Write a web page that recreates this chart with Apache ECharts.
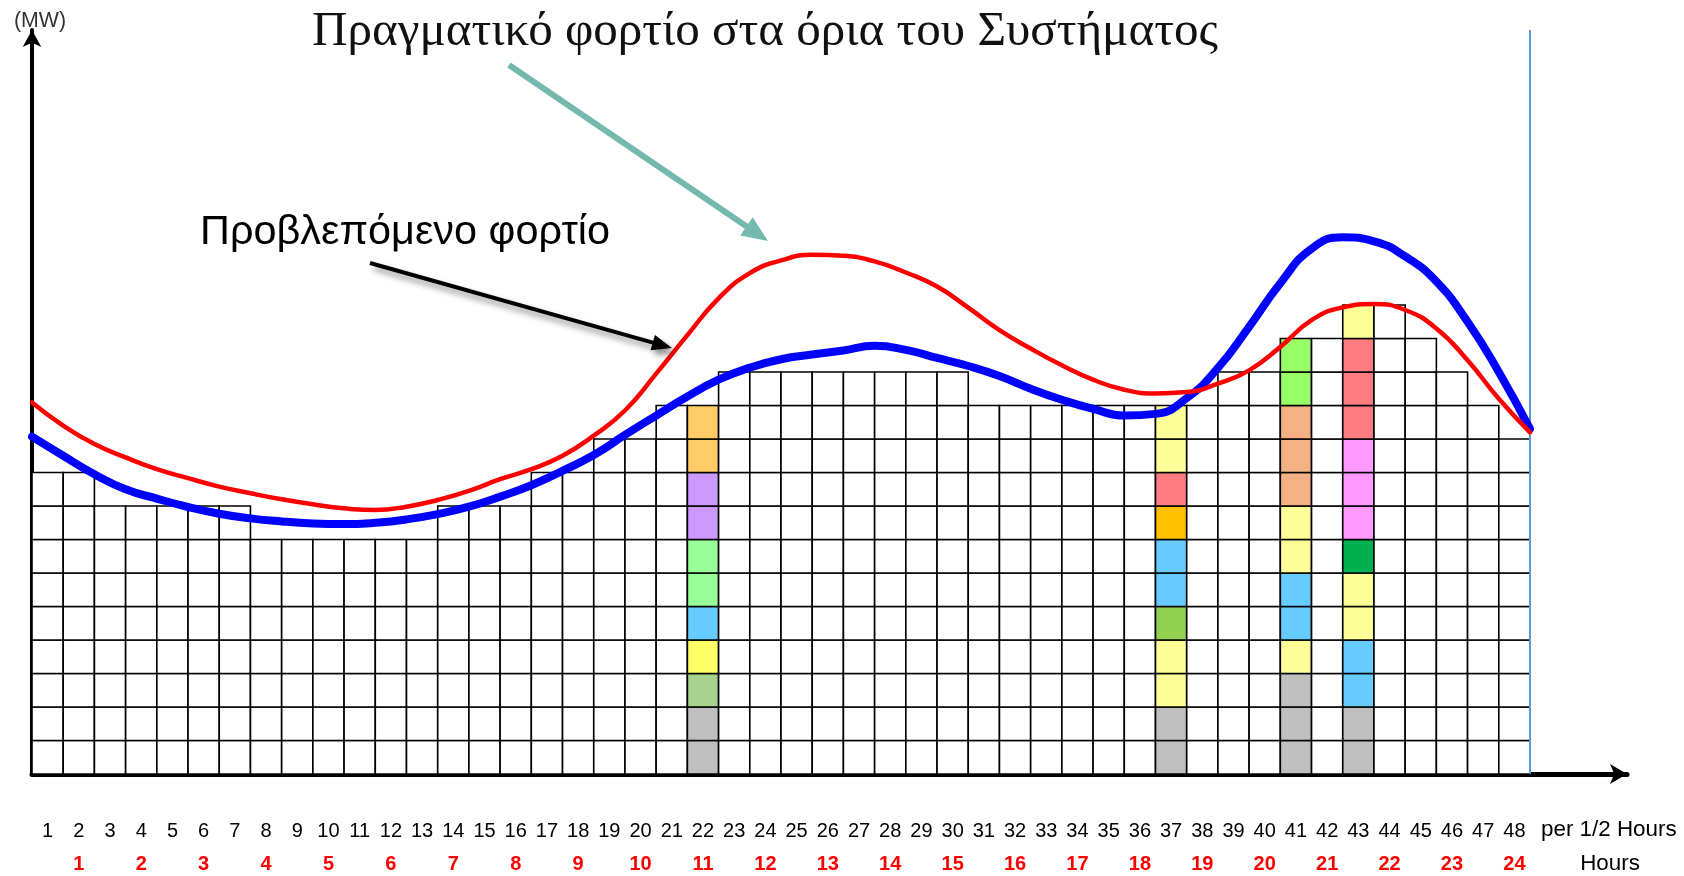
<!DOCTYPE html>
<html><head><meta charset="utf-8">
<script src="https://cdn.jsdelivr.net/npm/echarts@6/dist/echarts.min.js"></script>
<style>html,body{margin:0;padding:0;background:#fff}#c{width:1684px;height:876px}</style>
</head><body><div id="c"></div>
<script>
// ---------------- data ----------------
const halfHourLabels = ['1','2','3','4','5','6','7','8','9','10','11','12','13','14','15','16','17','18','19','20','21','22','23','24','25','26','27','28','29','30','31','32','33','34','35','36','37','38','39','40','41','42','43','44','45','46','47','48'];
const hourLabels = ['1','2','3','4','5','6','7','8','9','10','11','12','13','14','15','16','17','18','19','20','21','22','23','24'];
// number of load blocks scheduled in each half hour
const blockHeights = [9,9,8,8,8,8,8,7,7,7,7,7,7,8,8,8,9,9,10,10,11,11,12,12,12,12,12,12,12,12,11,11,11,11,11,11,11,11,12,12,13,13,14,14,13,12,11,10];
// generating units shown in the highlighted half hours (bottom to top)
const unitsHalfHour22 = ['gray','gray','olive','yellow','sky','mint','mint','lilac','lilac','apricot','apricot'];
const unitsHalfHour37 = ['gray','gray','paleYellow','paleYellow','lime','sky','sky','amber','coral','paleYellow','paleYellow'];
const unitsHalfHour41 = ['gray','gray','gray','paleYellow','sky','sky','paleYellow','paleYellow','salmon','salmon','salmon','chartreuse','chartreuse'];
const unitsHalfHour43 = ['gray','gray','sky','sky','paleYellow','paleYellow','green','pink','pink','pink','coral','coral','coral','paleYellow'];
// curve sample times (half-hour boundaries) and load values in blocks
const boundaryTimes = [0,1,2,3,4,5,6,7,8,9,10,11,12,13,14,15,16,17,18,19,20,21,22,23,24,25,26,27,28,29,30,31,32,33,34,35,36,37,38,39,40,41,42,43,44,45,46,47,48];
const actualLoad = [11.09,10.4,9.85,9.45,9.1,8.83,8.58,8.38,8.2,8.05,7.93,7.88,7.98,8.18,8.45,8.8,9.1,9.5,10.1,10.85,11.95,13.1,14.2,14.95,15.33,15.5,15.47,15.3,14.97,14.55,13.92,13.25,12.7,12.2,11.77,11.47,11.36,11.4,11.65,12.05,12.75,13.55,13.93,14.03,13.85,13.3,12.35,11.2,10.2];
const forecastLoad = [10.07,9.5,8.95,8.5,8.22,7.97,7.77,7.63,7.54,7.48,7.46,7.5,7.6,7.76,7.98,8.28,8.62,9.05,9.52,10.12,10.7,11.27,11.77,12.13,12.38,12.52,12.64,12.78,12.66,12.42,12.18,11.88,11.5,11.17,10.9,10.7,10.75,11.22,12.12,13.35,14.65,15.68,16.02,15.9,15.45,14.7,13.5,12.0,10.3];

// ---------------- styles ----------------
const unitColors = {gray:'#bfbfbf', olive:'#a9d18e', yellow:'#ffff66', paleYellow:'#ffff99', sky:'#66ccff', mint:'#99ff99', lilac:'#cc99ff', apricot:'#ffcc66', lime:'#92d050', amber:'#ffc000', coral:'#ff7c80', salmon:'#f4b183', chartreuse:'#99ff66', green:'#00b050', pink:'#ff99ff'};
const highlighted = {22: unitsHalfHour22, 37: unitsHalfHour37, 41: unitsHalfHour41, 43: unitsHalfHour43};

const cells = [];
blockHeights.forEach((h, i) => {
  const units = highlighted[i + 1];
  for (let r = 0; r < h; r++) {
    cells.push([i, r, units ? unitColors[units[r]] : '#ffffff']);
  }
});

const LEFT = 32, COLW = 1498 / 48, BASE = 774, ROWH = 33.5;
const gridWidth = 1595, gridTop = 30;
const xMax = gridWidth / COLW;
const yMax = (BASE - gridTop) / ROWH;

function measure(text, font) {
  const c = document.createElement('canvas').getContext('2d');
  c.font = font; return c.measureText(text).width;
}
function fitSize(text, family, weight, target) {
  const w = measure(text, weight + ' 100px ' + family);
  return 100 * target / w;
}
function arrow(x1, y1, x2, y2, color, width, headLen, headW, shadow) {
  const dx = x2 - x1, dy = y2 - y1, L = Math.hypot(dx, dy);
  const ux = dx / L, uy = dy / L, px = -uy, py = ux;
  const bx = x2 - ux * headLen, by = y2 - uy * headLen;
  const sh = shadow ? {shadowBlur: 6, shadowColor: 'rgba(0,0,0,0.45)', shadowOffsetX: 4, shadowOffsetY: 5} : {};
  return [
    {type: 'line', shape: {x1, y1, x2: bx + ux * 2, y2: by + uy * 2}, style: Object.assign({stroke: color, lineWidth: width}, sh), z: 100},
    {type: 'polygon', shape: {points: [[x2, y2], [bx + px * headW / 2, by + py * headW / 2], [bx - px * headW / 2, by - py * headW / 2]]}, style: Object.assign({fill: color}, sh), z: 100}
  ];
}

const titleText = 'Πραγματικό φορτίο στα όρια του Συστήματος';
const noteText = 'Προβλεπόμενο φορτίο';
const serif = "'Liberation Serif','DejaVu Serif',serif";
const sans = "'Liberation Sans','DejaVu Sans',sans-serif";
const titleSize = fitSize(titleText, serif, 'normal', 905);
const noteSize = fitSize(noteText, sans, 'normal', 410);
const unitSize = fitSize('per 1/2 Hours', sans, 'normal', 136);
const mwSize = fitSize('(MW)', sans, 'normal', 52);

const chart = echarts.init(document.getElementById('c'), null, {renderer: 'canvas'});
chart.setOption({
  animation: false,
  backgroundColor: '#ffffff',
  grid: [
    {left: LEFT, top: gridTop, width: gridWidth, height: BASE - gridTop},
    {left: LEFT, top: gridTop, width: 1498, height: BASE - gridTop},
    {left: LEFT, top: gridTop, width: 1498, height: BASE - gridTop}
  ],
  xAxis: [
    {gridIndex: 0, type: 'value', min: 0, max: xMax, splitLine: {show: false}, axisTick: {show: false}, axisLabel: {show: false},
     axisLine: {show: true, onZero: false, symbol: ['none', 'arrow'], symbolSize: [15, 17], lineStyle: {color: '#000', width: 5}}},
    {gridIndex: 1, type: 'category', data: halfHourLabels, axisLine: {show: false}, axisTick: {show: false}, splitLine: {show: false},
     axisLabel: {interval: 0, margin: 57, verticalAlign: 'middle', color: '#000', fontSize: 20, fontFamily: sans}},
    {gridIndex: 2, type: 'category', data: halfHourLabels.map((_, i) => i % 2 === 1 ? hourLabels[(i - 1) / 2] : ''),
     axisLine: {show: false}, axisTick: {show: false}, splitLine: {show: false},
     axisLabel: {interval: 0, margin: 90, verticalAlign: 'middle', color: '#ff0000', fontSize: 20, fontWeight: 'bold', fontFamily: sans}}
  ],
  yAxis: [
    {gridIndex: 0, type: 'value', min: 0, max: yMax, splitLine: {show: false}, axisTick: {show: false}, axisLabel: {show: false},
     axisLine: {show: true, onZero: false, symbol: ['none', 'arrow'], symbolSize: [14, 17], lineStyle: {color: '#000', width: 4}}},
    {gridIndex: 1, type: 'value', show: false},
    {gridIndex: 2, type: 'value', show: false}
  ],
  series: [
    {
      type: 'custom', xAxisIndex: 0, yAxisIndex: 0, data: cells, encode: {x: 0, y: 1}, z: 2, silent: true,
      renderItem: function (params, api) {
        const k = api.value(0), r = api.value(1);
        const p0 = api.coord([k, r + 1]);
        const p1 = api.coord([k + 1, r]);
        return {type: 'rect', shape: {x: p0[0], y: p0[1], width: p1[0] - p0[0], height: p1[1] - p0[1]},
          style: {fill: api.value(2), stroke: '#000', lineWidth: 1.6}};
      },
      markLine: {silent: true, symbol: 'none', label: {show: false},
        lineStyle: {color: '#5b9bd5', width: 2, type: 'solid'}, data: [{xAxis: 48}]}
    },
    {
      name: 'Προβλεπόμενο φορτίο', type: 'line', xAxisIndex: 0, yAxisIndex: 0, z: 5,
      data: boundaryTimes.map((t, i) => [t, forecastLoad[i]]), smooth: 0.5, showSymbol: false,
      lineStyle: {color: '#0000ff', width: 8, cap: 'round'}
    },
    {
      name: 'Πραγματικό φορτίο', type: 'line', xAxisIndex: 0, yAxisIndex: 0, z: 6,
      data: boundaryTimes.map((t, i) => [t, actualLoad[i]]), smooth: 0.5, showSymbol: false,
      lineStyle: {color: '#ff0000', width: 4.5, cap: 'round'}
    }
  ],
  graphic: [
    {type: 'text', x: 40, y: 21, style: {text: '(MW)', font: mwSize.toFixed(1) + 'px ' + sans, fill: '#333', align: 'center', verticalAlign: 'middle'}, z: 100},
    {type: 'text', x: 765, y: 32, style: {text: titleText, font: titleSize.toFixed(1) + 'px ' + serif, fill: '#111', align: 'center', verticalAlign: 'middle'}, z: 100},
    {type: 'text', x: 405, y: 233, style: {text: noteText, font: noteSize.toFixed(1) + 'px ' + sans, fill: '#000', align: 'center', verticalAlign: 'middle'}, z: 100},
    {type: 'text', x: 1541, y: 830, style: {text: 'per 1/2 Hours', font: unitSize.toFixed(1) + 'px ' + sans, fill: '#000', align: 'left', verticalAlign: 'middle'}, z: 100},
    {type: 'text', x: 1610, y: 864, style: {text: 'Hours', font: unitSize.toFixed(1) + 'px ' + sans, fill: '#000', align: 'center', verticalAlign: 'middle'}, z: 100}
  ].concat(arrow(509, 65, 768, 241, '#74b9ad', 6, 26, 22, false))
   .concat(arrow(370, 263, 672, 348, '#000000', 4, 20, 16, true))
});
</script>
</body></html>
